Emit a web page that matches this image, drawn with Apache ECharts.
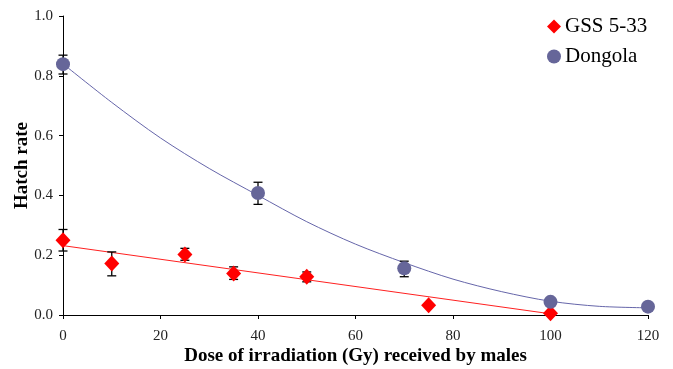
<!DOCTYPE html>
<html><head><meta charset="utf-8">
<script src="https://cdn.jsdelivr.net/npm/echarts@6/dist/echarts.min.js"></script>
<style>html,body{margin:0;padding:0;background:#fff}#c{width:673px;height:369px}</style>
</head><body><div id="c"></div>
<script>
const xTicks = [0, 20, 40, 60, 80, 100, 120];
const yTicks = [0, 0.2, 0.4, 0.6, 0.8, 1.0];

const gssDose = [0, 10, 25, 35, 50, 75, 100];
const gssRate = [0.25, 0.172, 0.202, 0.139, 0.128, 0.033, 0.006];
const gssLow  = [0.214, 0.131, 0.183, 0.119, 0.111, null, null];
const gssHigh = [0.286, 0.211, 0.223, 0.161, 0.144, null, null];

const dongolaDose = [0, 40, 70, 100, 120];
const dongolaRate = [0.839, 0.408, 0.156, 0.044, 0.028];
const dongolaLow  = [0.806, 0.37, 0.128, null, null];
const dongolaHigh = [0.869, 0.444, 0.18, null, null];

const gssTrendDose = [0, 50, 100];
const gssTrendRate = [0.232, 0.118, 0.004];

const dongolaTrendDose = [0, 10, 20, 30, 40, 50, 60, 70, 80, 90, 100, 110, 120];
const dongolaTrendRate = [0.84, 0.711, 0.592, 0.49, 0.40, 0.312, 0.237, 0.175, 0.12, 0.078, 0.046, 0.029, 0.024];

const FONT = "'Liberation Serif','Times New Roman',serif";
const zip = (a, b) => a.map((v, i) => [v, b[i]]);
const errData = (x, lo, hi) => x.map((v, i) => [v, lo[i], hi[i]]).filter(d => d[1] != null);

function errRender(params, api) {
  const x = api.value(0);
  const lo = api.coord([x, api.value(1)]);
  const hi = api.coord([x, api.value(2)]);
  const w = 4.5;
  const style = { stroke: '#000', lineWidth: 1.3 };
  return { type: 'group', children: [
    { type: 'line', shape: { x1: lo[0], y1: lo[1], x2: hi[0], y2: hi[1] }, style },
    { type: 'line', shape: { x1: lo[0] - w, y1: lo[1], x2: lo[0] + w, y2: lo[1] }, style },
    { type: 'line', shape: { x1: hi[0] - w, y1: hi[1], x2: hi[0] + w, y2: hi[1] }, style }
  ]};
}

const chart = echarts.init(document.getElementById('c'), null, { renderer: 'canvas' });
chart.setOption({
  animation: false,
  backgroundColor: '#fff',
  textStyle: { fontFamily: FONT },
  grid: { left: 63, right: 25, top: 16, bottom: 54, containLabel: false, outerBoundsMode: 'none' },
  legend: {
    orient: 'vertical', left: 542, top: 11, itemGap: 9,
    itemWidth: 14, itemHeight: 14, itemStyle: { borderWidth: 0 },
    textStyle: { fontFamily: FONT, fontSize: 21, color: '#000', padding: [0, 0, 0, -1] },
    data: [
      { name: 'GSS 5-33', icon: 'diamond' },
      { name: 'Dongola', icon: 'circle' }
    ]
  },
  xAxis: {
    type: 'value', min: xTicks[0], max: xTicks[xTicks.length - 1], interval: 20,
    name: 'Dose of irradiation (Gy) received by males', nameLocation: 'middle', nameGap: 32,
    nameMoveOverlap: false,
    nameTextStyle: { fontFamily: FONT, fontSize: 19, fontWeight: 'bold', color: '#000' },
    axisLine: { lineStyle: { color: '#000', width: 1 } },
    axisTick: { show: true, inside: false, length: 4, lineStyle: { color: '#000' } },
    axisLabel: { fontFamily: FONT, fontSize: 15, color: '#222', margin: 14 },
    splitLine: { show: false }
  },
  yAxis: {
    type: 'value', min: yTicks[0], max: yTicks[yTicks.length - 1], interval: 0.2,
    name: 'Hatch rate', nameLocation: 'middle', nameGap: 31, nameRotate: 90,
    nameMoveOverlap: false,
    nameTextStyle: { fontFamily: FONT, fontSize: 19, fontWeight: 'bold', color: '#000' },
    axisLine: { show: true, lineStyle: { color: '#000', width: 1 } },
    axisTick: { show: true, inside: false, length: 4, lineStyle: { color: '#000' } },
    axisLabel: { fontFamily: FONT, fontSize: 15, color: '#222', margin: 10, formatter: v => v.toFixed(1) },
    splitLine: { show: false }
  },
  series: [
    { type: 'line', name: 'gssTrend', data: zip(gssTrendDose, gssTrendRate), showSymbol: false,
      lineStyle: { color: '#ff2020', width: 1 }, silent: true, z: 1 },
    { type: 'line', name: 'dongolaTrend', data: zip(dongolaTrendDose, dongolaTrendRate), showSymbol: false, smooth: 0.3,
      lineStyle: { color: '#6666aa', width: 1 }, silent: true, z: 1 },
    { type: 'custom', name: 'gssErr', data: errData(gssDose, gssLow, gssHigh), renderItem: errRender, z: 2 },
    { type: 'custom', name: 'dongolaErr', data: errData(dongolaDose, dongolaLow, dongolaHigh), renderItem: errRender, z: 2 },
    { type: 'scatter', name: 'GSS 5-33', data: zip(gssDose, gssRate), symbol: 'diamond', symbolSize: [15, 16],
      itemStyle: { color: '#ff0000', opacity: 1 }, z: 3 },
    { type: 'scatter', name: 'Dongola', data: zip(dongolaDose, dongolaRate), symbol: 'circle', symbolSize: 14,
      itemStyle: { color: '#666699', opacity: 1 }, z: 3 }
  ]
});
</script></body></html>
